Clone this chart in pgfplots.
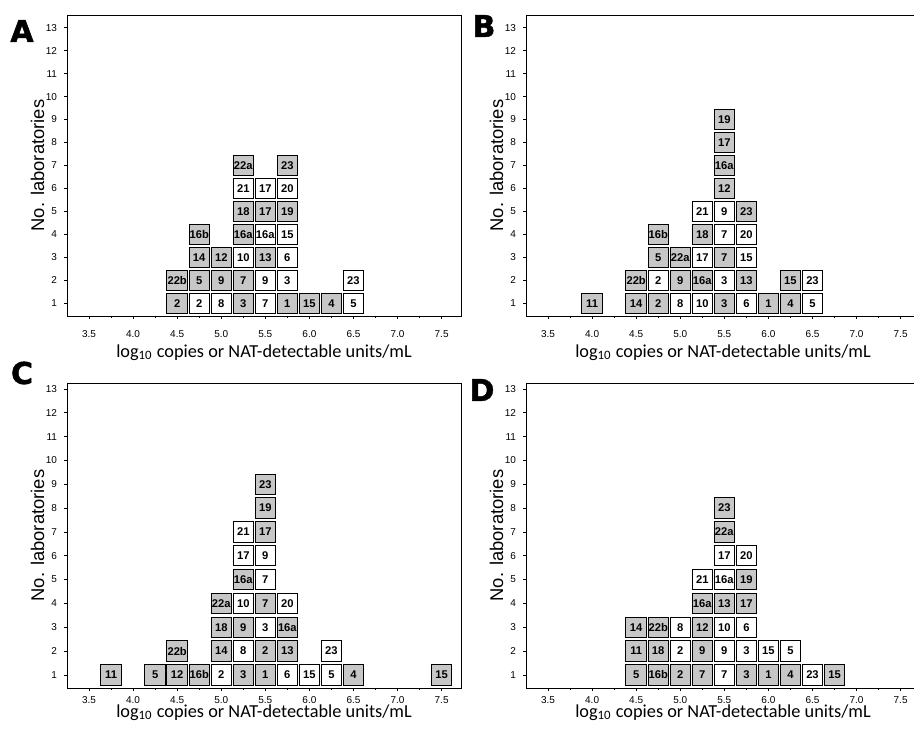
\documentclass[border=0pt]{standalone}
\usepackage{fontspec}
\setmainfont{Liberation Sans}
\newfontfamily\carlito{Carlito}
\newfontfamily\heavy{DejaVu Sans}[BoldFeatures={FakeBold=1.5}]
\usepackage{pgfplots}
\usepackage{pgfplotstable}
\pgfplotsset{compat=1.18}
\definecolor{shade}{gray}{0.78}

% x = bin centre (log10), y = stack position, l = laboratory code
\pgfplotstableread{
x y l
4.5 1 2
4.5 2 22b
4.75 2 5
4.75 3 14
4.75 4 16b
5.0 2 9
5.0 3 12
5.25 1 3
5.25 2 7
5.25 4 16a
5.25 5 18
5.25 7 22a
5.5 3 13
5.5 5 17
5.75 1 1
5.75 5 19
5.75 7 23
6.0 1 15
6.25 1 4
}\AS
\pgfplotstableread{
x y l
4.75 1 2
5.0 1 8
5.25 3 10
5.25 6 21
5.5 1 7
5.5 2 9
5.5 4 16a
5.5 6 17
5.75 2 3
5.75 3 6
5.75 4 15
5.75 6 20
6.5 1 5
6.5 2 23
}\AW
\pgfplotstableread{
x y l
4.0 1 11
4.5 1 14
4.5 2 22b
4.75 1 2
4.75 3 5
4.75 4 16b
5.0 2 9
5.0 3 22a
5.25 2 16a
5.25 4 18
5.5 1 3
5.5 3 7
5.5 6 12
5.5 7 16a
5.5 8 17
5.5 9 19
5.75 2 13
5.75 5 23
6.0 1 1
6.25 1 4
6.25 2 15
}\BS
\pgfplotstableread{
x y l
4.75 2 2
5.0 1 8
5.25 1 10
5.25 3 17
5.25 5 21
5.5 2 3
5.5 4 7
5.5 5 9
5.75 1 6
5.75 3 15
5.75 4 20
6.5 1 5
6.5 2 23
}\BW
\pgfplotstableread{
x y l
3.75 1 11
4.25 1 5
4.5 1 12
4.5 2 22b
4.75 1 16b
5.0 2 14
5.0 3 18
5.0 4 22a
5.25 1 3
5.25 3 9
5.25 5 16a
5.5 1 1
5.5 2 2
5.5 4 7
5.5 7 17
5.5 8 19
5.5 9 23
5.75 2 13
5.75 3 16a
6.5 1 4
7.5 1 15
}\CS
\pgfplotstableread{
x y l
5.0 1 2
5.25 2 8
5.25 4 10
5.25 6 17
5.25 7 21
5.5 3 3
5.5 5 7
5.5 6 9
5.75 1 6
5.75 4 20
6.0 1 15
6.25 1 5
6.25 2 23
}\CW
\pgfplotstableread{
x y l
4.5 1 5
4.5 2 11
4.5 3 14
4.75 1 16b
4.75 2 18
4.75 3 22b
5.0 1 2
5.25 1 7
5.25 2 9
5.25 3 12
5.25 4 16a
5.5 4 13
5.5 7 22a
5.5 8 23
5.75 1 3
5.75 4 17
5.75 5 19
6.0 1 1
6.25 1 4
6.75 1 15
}\DS
\pgfplotstableread{
x y l
5.0 2 2
5.0 3 8
5.25 5 21
5.5 1 7
5.5 2 9
5.5 3 10
5.5 5 16a
5.5 6 17
5.75 2 3
5.75 3 6
5.75 6 20
6.0 2 15
6.25 2 5
6.5 1 23
}\DW

\pgfplotsset{
  panel/.style={scale only axis, width=197pt,
    xmin=3.25, xmax=7.72,
    xtick={3.5,4,...,7.5},
    minor xtick={3.75,4.25,4.75,5.25,5.75,6.25,6.75,7.25},
    ytick={1,...,13},
    tick align=outside, xtick pos=bottom, ytick pos=left,
    major tick length=1.5pt, minor tick length=1pt,
    tick style={black, line width=0.4pt},
    axis line style={line width=0.5pt},
    /pgf/number format/assume math mode=true,
    ticklabel style={font=\fontsize{5}{6}\selectfont},
    xticklabel style={/pgf/number format/fixed, /pgf/number format/fixed zerofill,
      /pgf/number format/precision=1},
    xlabel={log\textsubscript{10} copies or NAT-detectable units/mL},
    ylabel={No. laboratories},
    ylabel style={font=\fontsize{9.2}{11}\selectfont,
      at={(axis description cs:-0.075,0.5)}, anchor=center},
  },
  toprow/.style={height=150.5pt, ymin=0.45, ymax=13.55,
    xticklabel shift=2.3pt,
    xlabel style={font=\carlito\fontsize{9.15}{11}\selectfont,
      at={(axis description cs:0.5,-0.123)}, anchor=center}},
  botrow/.style={height=152.5pt, ymin=0.45, ymax=13.25,
    xticklabel shift=-0.8pt,
    xlabel style={font=\carlito\fontsize{9.15}{11}\selectfont,
      at={(axis description cs:0.5,-0.082)}, anchor=center}},
  boxes/.style={only marks, mark=square*, mark size=5.1pt,
    mark options={fill=#1, draw=black, line width=0.5pt},
    nodes near coords, point meta=explicit symbolic,
    nodes near coords align=center,
    every node near coord/.append style={font=\bfseries\fontsize{5.6}{6}\selectfont,
      inner sep=0pt, text=black}},
}

\newcommand{\panelplots}[2]{%
  \addplot[boxes=shade] table[meta=l] {#1};
  \addplot[boxes=white] table[meta=l] {#2};
}

\begin{document}
\begin{tikzpicture}
\path (0,0) rectangle (457pt,365pt);

\begin{axis}[panel, toprow, at={(33.5pt,207pt)}, anchor=south west]
\panelplots{\AS}{\AW}
\end{axis}

\begin{axis}[panel, toprow, at={(263pt,207pt)}, anchor=south west]
\panelplots{\BS}{\BW}
\end{axis}

\begin{axis}[panel, botrow, at={(33.5pt,21pt)}, anchor=south west]
\panelplots{\CS}{\CW}
\end{axis}

\begin{axis}[panel, botrow, at={(263pt,21pt)}, anchor=south west]
\panelplots{\DS}{\DW}
\end{axis}

\begin{scope}[every node/.style={font=\heavy\bfseries\fontsize{15}{16}\selectfont, inner sep=0pt}]
\node at (11pt,349.5pt) {A};
\node at (242pt,352pt) {B};
\node at (11pt,178.5pt) {C};
\node at (241pt,170pt) {D};
\end{scope}

\pgfresetboundingbox
\path[use as bounding box] (0,0) rectangle (457pt,365pt);
\end{tikzpicture}
\end{document}
